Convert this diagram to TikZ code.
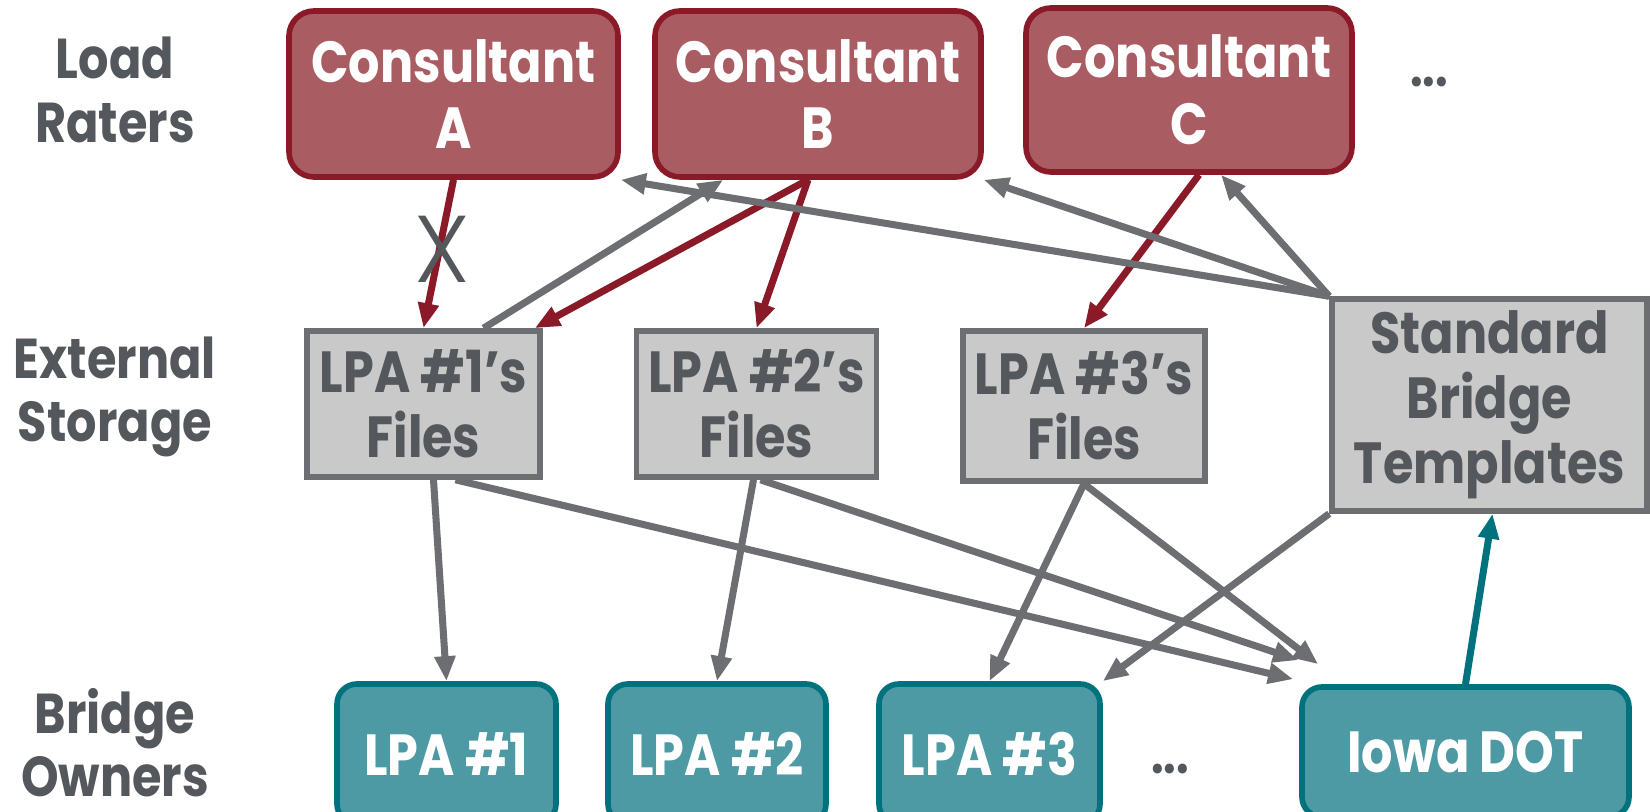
\documentclass[tikz,border=0pt]{standalone}
\usepackage{fontspec}
\setmainfont{Poppins}[FakeStretch=0.85]
\newfontfamily\thinfont{Poppins Light}
\usetikzlibrary{calc,arrows.meta}

\definecolor{raterfill}{HTML}{AA5C63}
\definecolor{raterline}{HTML}{8B1A28}
\definecolor{storefill}{HTML}{C8C9C8}
\definecolor{storeline}{HTML}{6D6E71}
\definecolor{ownerfill}{HTML}{4E9AA4}
\definecolor{ownerline}{HTML}{00727E}
\definecolor{labelgray}{HTML}{54575B}

\tikzset{
	tierlabel/.style={align=center, text=labelgray, font=\fontsize{16}{18}\selectfont\bfseries},
	rater/.style={draw=raterline, fill=raterfill, line width=1.6pt, rounded corners=0.25cm, text=white, align=center, font=\fontsize{16.5}{19}\selectfont\bfseries},
	store/.style={draw=storeline, fill=storefill, line width=1.6pt, text=labelgray, align=center, font=\fontsize{16.5}{18.5}\selectfont\bfseries},
	owner/.style={draw=ownerline, fill=ownerfill, line width=1.6pt, rounded corners=0.2cm, text=white, align=center, font=\fontsize{16.5}{19}\selectfont\bfseries},
	grayarrow/.style={draw=storeline, line width=2pt, -{Triangle[length=0.25cm,width=0.2cm]}},
	redarrow/.style={draw=raterline, line width=2pt, -{Triangle[length=0.25cm,width=0.2cm]}},
	tealarrow/.style={draw=ownerline, line width=2pt, -{Triangle[length=0.25cm,width=0.2cm]}},
}

\begin{document}
\begin{tikzpicture}
			%%%%% START %%%%%
			\useasboundingbox (0, 0) rectangle (16.5, 8.12);
			
			% tiers
			\node[tierlabel] (lblraters) at (1.15, 7.22) {Load\\Raters};
			\node[tierlabel] (lblstorage) at (1.15, 4.15) {External\\Storage};
			\node[tierlabel] (lblowners) at (1.15, 0.69) {Bridge\\Owners};
			
			% load raters
			\node[rater, minimum width=3.29cm, minimum height=1.66cm] (consA) at (4.535, 7.18) {Consultant\\A};
			\node[rater, minimum width=3.26cm, minimum height=1.66cm] (consB) at (8.18, 7.18) {Consultant\\B};
			\node[rater, minimum width=3.26cm, minimum height=1.64cm] (consC) at (11.89, 7.22) {Consultant\\C};
			\node[text=labelgray, font=\fontsize{15}{18}\selectfont\bfseries] (moreraters) at (14.29, 7.30) {...};
			
			% external storage
			\node[store, minimum width=2.33cm, minimum height=1.46cm] (files1) at (4.235, 4.08) {LPA \#1’s\\Files};
			\node[store, minimum width=2.33cm, minimum height=1.46cm] (files2) at (7.565, 4.08) {LPA \#2’s\\Files};
			\node[store, minimum width=2.32cm, minimum height=1.50cm] (files3) at (10.84, 4.06) {LPA \#3’s\\Files};
			\node[store, minimum width=3.15cm, minimum height=2.08cm] (tmpl) at (14.895, 4.07) {Standard\\Bridge\\Templates};
			
			% bridge owners
			\node[owner, minimum width=2.19cm, minimum height=1.4cm] (lpa1) at (4.465, 0.58) {LPA \#1};
			\node[owner, minimum width=2.18cm, minimum height=1.4cm] (lpa2) at (7.17, 0.58) {LPA \#2};
			\node[owner, minimum width=2.21cm, minimum height=1.4cm] (lpa3) at (9.895, 0.58) {LPA \#3};
			\node[text=labelgray, font=\fontsize{15}{18}\selectfont\bfseries] (moreowners) at (11.70, 0.43) {...};
			\node[owner, minimum width=3.27cm, minimum height=1.3cm] (iowa) at (14.655, 0.60) {Iowa DOT};
			
			% consultants to files
			\draw[redarrow] (consA.south) -- (files1.north);
			\node[text=labelgray, font=\fontsize{27}{27}\thinfont] (blocked) at (4.42, 5.63) {X};
			\draw[redarrow] ($(consB.south)+(-0.1,0)$) -- ($(files1.north east)+(-0.08,0)$);
			\draw[grayarrow] ($(files1.north)+(0.6,0)$) -- ($(consB.south west)+(0.71,0)$);
			\draw[redarrow] ($(consB.south)+(-0.1,0)$) -- (files2.north);
			\draw[redarrow] ($(consC.south)+(0.1,0)$) -- (files3.north);
			
			% templates to consultants
			\draw[grayarrow] (tmpl.north west) -- (consA.south east);
			\draw[grayarrow] (tmpl.north west) -- (consB.south east);
			\draw[grayarrow] (tmpl.north west) -- ($(consC.south)+(0.32,0)$);
			
			% files to owners
			\draw[grayarrow] ($(files1.south)+(0.1,0)$) -- (lpa1.north);
			\draw[grayarrow] ($(files1.south)+(0.32,0)$) -- ($(iowa.north west)+(-0.06,0.05)$);
			\draw[grayarrow] ($(files2.south)+(-0.03,0)$) -- (lpa2.north);
			\draw[grayarrow] ($(files2.south)+(0.04,0)$) -- ($(iowa.north west)+(-0.01,0.24)$);
			\draw[grayarrow] (files3.south) -- (lpa3.north);
			\draw[grayarrow] (files3.south) -- ($(iowa.north west)+(0.19,0.20)$);
			\draw[grayarrow] (tmpl.south west) -- (lpa3.north east);
			\draw[tealarrow] (iowa.north) -- ($(tmpl.south)+(0.03,0)$);
			
			%%%%% END %%%%%
\end{tikzpicture}
\end{document}
